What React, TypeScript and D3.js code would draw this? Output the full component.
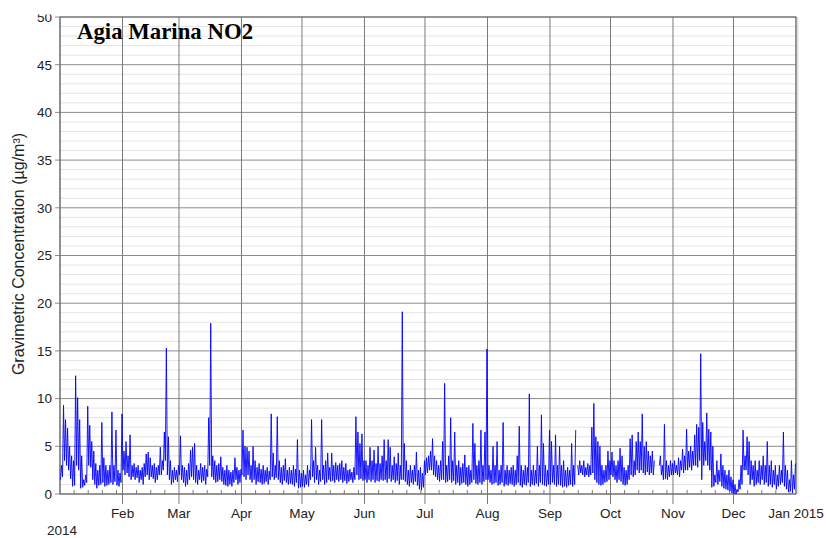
import React from "react";
import * as d3 from "d3";

// ---- data: daily minimum and maximum (µg/m³) ----
const janHigh = [3.0, 9.3, 7.8, 6.9, 5.0, 4.0, 3.5, 12.4, 10.1, 7.8, 4.0, 1.5, 2.0, 9.2, 7.2, 5.5, 4.5, 3.2, 2.5, 3.0, 7.5, 3.8, 3.0, 2.5, 3.0, 8.6, 3.0, 6.7, 2.5, 2.2, 8.4];
const janLow = [1.5, 1.8, 3.5, 3.0, 2.5, 1.6, 0.8, 0.9, 3.0, 2.5, 0.6, 0.7, 0.9, 1.2, 3.0, 2.8, 1.5, 1.0, 0.6, 0.9, 1.0, 1.2, 0.8, 0.9, 1.0, 1.2, 1.0, 1.3, 0.9, 0.8, 1.2];
const febHigh = [4.5, 5.5, 4.0, 6.2, 3.0, 3.2, 2.8, 3.0, 2.5, 2.8, 3.2, 4.2, 4.4, 3.8, 3.0, 3.2, 2.8, 3.0, 4.9, 3.5, 6.5, 15.3, 6.0, 3.5, 2.5, 2.8, 2.5, 3.0];
const febLow = [2.5, 2.0, 2.2, 1.8, 1.5, 1.8, 1.5, 1.7, 1.2, 1.5, 1.0, 1.8, 2.0, 1.5, 1.8, 1.6, 1.2, 1.5, 2.0, 2.0, 2.5, 3.5, 2.0, 1.5, 1.0, 1.2, 1.5, 1.3];
const marHigh = [6.1, 3.0, 2.8, 2.5, 3.2, 4.6, 4.9, 5.3, 3.0, 2.5, 3.2, 2.8, 3.0, 2.6, 8.0, 17.9, 4.0, 3.5, 3.0, 3.2, 3.9, 2.8, 2.5, 3.0, 2.5, 2.3, 2.5, 3.8, 2.8, 2.5, 2.6];
const marLow = [2.0, 1.5, 1.2, 0.8, 1.0, 1.5, 1.8, 1.5, 1.2, 1.0, 1.5, 1.2, 1.4, 1.0, 1.8, 3.0, 1.8, 1.5, 1.2, 1.3, 1.5, 1.3, 1.0, 0.9, 0.8, 1.0, 0.8, 1.2, 1.5, 1.0, 1.2];
const aprHigh = [6.7, 5.0, 4.9, 4.5, 3.0, 5.0, 3.5, 2.8, 3.2, 2.6, 3.0, 2.5, 2.8, 2.4, 8.4, 4.3, 3.0, 8.1, 3.5, 2.8, 3.0, 3.7, 2.5, 2.8, 2.5, 3.0, 2.6, 5.7, 2.5, 2.2];
const aprLow = [2.0, 1.8, 1.5, 2.0, 1.5, 1.2, 1.5, 1.0, 1.3, 1.2, 1.0, 1.1, 1.3, 1.0, 1.5, 1.8, 1.5, 1.7, 1.5, 1.2, 1.0, 1.4, 1.2, 1.0, 1.1, 1.0, 0.8, 1.2, 0.6, 0.7];
const mayHigh = [2.5, 2.0, 3.0, 2.5, 7.8, 3.5, 4.9, 3.0, 2.5, 7.8, 3.0, 3.5, 4.3, 2.8, 4.3, 3.0, 3.3, 3.0, 3.2, 3.5, 2.8, 3.2, 2.5, 2.6, 2.3, 2.8, 8.1, 6.5, 5.3, 6.3, 3.5];
const mayLow = [0.8, 0.7, 1.0, 0.8, 1.5, 1.8, 1.2, 1.5, 1.0, 1.3, 1.5, 1.0, 1.2, 1.5, 1.3, 1.4, 1.2, 1.5, 1.3, 1.5, 1.2, 1.4, 1.1, 1.3, 1.5, 1.2, 1.5, 2.0, 1.5, 1.6, 1.4];
const junHigh = [3.5, 3.0, 4.9, 3.5, 4.6, 3.2, 5.0, 3.2, 4.0, 5.7, 3.5, 5.7, 4.9, 3.0, 3.9, 3.2, 4.3, 3.0, 19.1, 5.3, 3.5, 2.5, 3.0, 2.5, 3.0, 4.4, 2.5, 2.8, 2.2, 3.5];
const junLow = [1.5, 1.2, 1.5, 1.3, 1.5, 1.2, 1.4, 1.3, 1.5, 1.4, 1.5, 1.2, 1.6, 1.3, 1.5, 1.2, 1.4, 1.0, 1.5, 1.5, 1.3, 1.0, 0.8, 1.2, 1.0, 1.3, 0.9, 0.5, 0.4, 0.7];
const julHigh = [3.8, 4.0, 4.5, 5.8, 4.0, 3.5, 3.0, 3.5, 5.5, 11.6, 3.0, 4.0, 8.0, 3.5, 6.5, 3.0, 3.5, 2.8, 3.2, 4.1, 2.8, 3.0, 2.5, 7.4, 5.3, 3.0, 3.5, 6.7, 3.0, 6.5, 15.2];
const julLow = [2.0, 2.2, 2.5, 2.5, 2.0, 1.8, 1.5, 1.3, 1.5, 1.5, 1.2, 1.3, 1.5, 1.2, 1.4, 1.0, 1.2, 0.9, 1.1, 1.2, 1.0, 0.8, 1.0, 1.2, 1.5, 1.1, 1.0, 1.2, 1.0, 1.3, 1.5];
const augHigh = [3.0, 2.5, 5.0, 3.0, 5.5, 2.5, 3.0, 7.5, 2.5, 3.0, 2.5, 2.8, 3.0, 2.5, 4.0, 7.1, 3.0, 2.5, 3.0, 2.8, 10.5, 2.5, 3.0, 2.5, 5.0, 3.0, 8.3, 5.3, 3.0, 2.5, 6.7];
const augLow = [1.5, 1.2, 1.0, 1.1, 1.2, 0.9, 1.0, 1.2, 0.8, 1.0, 0.9, 1.1, 1.0, 0.8, 1.0, 1.2, 0.9, 0.7, 1.0, 0.9, 1.2, 0.8, 1.0, 0.9, 1.1, 0.8, 1.2, 1.0, 0.9, 0.8, 1.0];
const sepHigh = [5.5, 3.0, 6.2, 3.0, 5.0, 3.0, 3.5, 2.5, 2.8, 2.5, 5.3, 3.0, 6.7, 3.0, 3.5, 3.0, 3.5, 2.8, 3.2, 3.0, 7.0, 9.5, 6.0, 5.5, 5.0, 3.0, 2.5, 3.0, 4.5, 3.5];
const sepLow = [1.0, 1.2, 1.0, 0.8, 1.0, 0.9, 0.7, 0.8, 0.7, 0.9, 1.0, 0.8, 1.0, null, 2.0, 2.2, 2.0, 1.8, 2.0, 1.8, 2.0, 2.2, 1.5, 1.2, 1.0, 0.9, 1.0, 1.2, 1.3, 1.5];
const octHigh = [4.4, 3.5, 3.0, 3.5, 4.8, 4.0, 2.8, 2.5, 3.0, 5.8, 6.2, 3.5, 5.5, 6.5, 5.5, 8.4, 5.0, 5.5, 4.5, 4.0, 4.5, 3.5, null, null, 4.0, 3.0, 7.3, 3.5, 3.0, 3.5, 3.2];
const octLow = [2.0, 1.8, 1.5, 1.2, 1.5, 1.3, 1.0, 0.9, 1.0, 1.5, 2.0, 1.8, 2.0, 2.5, 2.2, 2.5, 2.2, 2.0, 2.3, 2.0, 2.2, 2.0, null, null, 3.0, 2.0, 1.5, 1.6, 1.5, 1.8, 2.0];
const novHigh = [3.5, 3.0, 3.8, 3.5, 4.7, 4.0, 6.8, 4.5, 5.0, 4.5, 6.2, 7.3, 7.0, 14.7, 7.5, 5.5, 8.5, 6.8, 6.5, 5.0, 2.0, 3.5, 2.5, 4.2, 3.0, 2.5, 2.0, 2.5, 1.8, 1.5];
const novLow = [2.0, 2.2, 2.0, 1.8, 2.5, 2.2, 2.5, 2.5, 2.8, 2.5, 3.0, 3.0, 2.8, 3.5, 1.5, 3.0, 3.5, 3.0, 2.5, 0.7, 0.8, 1.2, 1.0, 1.3, 0.8, 0.6, 0.5, 0.4, 0.3, 0.1];
const decHigh = [1.0, 0.5, 1.5, 3.0, 6.7, 4.0, 6.0, 5.5, 3.5, 3.0, 3.5, 2.5, 3.5, 3.0, 4.0, 3.0, 5.5, 3.0, 3.5, 2.5, 3.0, 2.0, 3.0, 2.5, 6.5, 3.0, 2.5, 1.5, 3.5, 2.0, 3.2];
const decLow = [0.0, 0.0, 0.2, 0.5, 1.0, 2.5, 2.5, 2.0, 1.0, 1.5, 0.8, 1.0, 1.2, 1.0, 1.5, 1.0, 1.2, 0.8, 1.0, 0.7, 1.0, 0.5, 0.8, 1.0, 1.2, 0.8, 0.5, 0.2, 0.3, 0.1, 0.5];

const yTicks = [0, 5, 10, 15, 20, 25, 30, 35, 40, 45, 50];
const monthLabels = ["", "Feb", "Mar", "Apr", "May", "Jun", "Jul", "Aug", "Sep", "Oct", "Nov", "Dec", "Jan 2015"];
const yearLabel = "2014";
const title = "Agia Marina NO2";
const yTitle = "Gravimetric Concentration (µg/m³)";

const W = 826, H = 538;
const M = { left: 60, right: 796, top: 17, bottom: 494 };
const FONT = "'Liberation Sans', Arial, sans-serif";

export default function App() {
  const start = new Date(Date.UTC(2014, 0, 1));
  const end = new Date(Date.UTC(2015, 0, 1));
  const x = d3.scaleUtc().domain([start, end]).range([M.left, M.right]);
  const y = d3.scaleLinear().domain([0, 50]).range([M.bottom, M.top]);

  const lows = [...janLow, ...febLow, ...marLow, ...aprLow, ...mayLow, ...junLow, ...julLow, ...augLow, ...sepLow, ...octLow, ...novLow, ...decLow];
  const highs = [...janHigh, ...febHigh, ...marHigh, ...aprHigh, ...mayHigh, ...junHigh, ...julHigh, ...augHigh, ...sepHigh, ...octHigh, ...novHigh, ...decHigh];

  const pts: { t: Date; v: number | null }[] = [];
  lows.forEach((lo, i) => {
    pts.push({ t: d3.utcHour.offset(d3.utcDay.offset(start, i), 6), v: lo });
    pts.push({ t: d3.utcHour.offset(d3.utcDay.offset(start, i), 18), v: highs[i] });
  });
  const line = d3
    .line<{ t: Date; v: number | null }>()
    .defined((p) => p.v != null)
    .x((p) => x(p.t))
    .y((p) => y(p.v as number));

  const months = d3.utcMonth.range(start, d3.utcDay.offset(end, 1));
  const weekTicks: Date[] = [];
  months.slice(0, 12).forEach((m) => {
    [7, 14, 21, 28].forEach((o) => {
      const d = d3.utcDay.offset(m, o);
      if (d.getUTCMonth() === m.getUTCMonth()) weekTicks.push(d);
    });
  });
  const minorY = d3.range(0, 51, 1).filter((v) => v % 5 !== 0);

  return (
    <svg width={W} height={H} style={{ position: "absolute", left: 0, top: 0 }}>
      <defs>
        <clipPath id="ylab">
          <rect x={0} y={14.5} width={60} height={H} />
        </clipPath>
      </defs>
      <rect x={0} y={0} width={W} height={H} fill="#fff" />
      {minorY.map((v) => (
        <line key={"mn" + v} x1={M.left} x2={M.right} y1={y(v)} y2={y(v)} stroke="#e4e4e4" strokeWidth={1} />
      ))}
      {yTicks.map((v) => (
        <line key={"mj" + v} x1={M.left - 5} x2={M.right} y1={y(v)} y2={y(v)} stroke="#8c8c8c" strokeWidth={1} />
      ))}
      {months.map((m, i) => (
        <line
          key={"m" + i}
          x1={x(m)}
          x2={x(m)}
          y1={M.top}
          y2={i === 0 || i === 12 ? M.bottom : M.bottom + 10}
          stroke="#7a7a7a"
          strokeWidth={1}
        />
      ))}
      {weekTicks.map((d, i) => (
        <line key={"w" + i} x1={x(d)} x2={x(d)} y1={M.bottom} y2={M.bottom - 4} stroke="#7a7a7a" strokeWidth={1} />
      ))}
      <line x1={M.right + 1.5} x2={M.right + 1.5} y1={M.top} y2={M.bottom} stroke="#e0e0e0" strokeWidth={2} />
      <rect x={M.left} y={M.top} width={M.right - M.left} height={M.bottom - M.top} fill="none" stroke="#666" strokeWidth={1} />
      <path d={line(pts) || ""} fill="none" stroke="#0000ff" strokeWidth={0.9} strokeLinejoin="round" />
      <g clipPath="url(#ylab)">
        {yTicks.map((v) => (
          <text key={"yl" + v} x={52} y={y(v)} dy="0.36em" textAnchor="end" fontFamily={FONT} fontSize={13.5} fill="#222">
            {v}
          </text>
        ))}
      </g>
      {months.map((m, i) =>
        monthLabels[i] ? (
          <text key={"xl" + i} x={x(m)} y={518} textAnchor="middle" fontFamily={FONT} fontSize={13.5} fill="#222">
            {monthLabels[i]}
          </text>
        ) : null
      )}
      <text x={47} y={535} fontFamily={FONT} fontSize={13.5} fill="#222">
        {yearLabel}
      </text>
      <text
        transform={`translate(24, 254) rotate(-90)`}
        textAnchor="middle"
        fontFamily={FONT}
        fontSize={16}
        fill="#222"
      >
        {yTitle}
      </text>
      <text x={77} y={38.5} fontFamily="'Liberation Serif', 'Times New Roman', serif" fontWeight="bold" fontSize={22.8} fill="#000">
        {title}
      </text>
    </svg>
  );
}
